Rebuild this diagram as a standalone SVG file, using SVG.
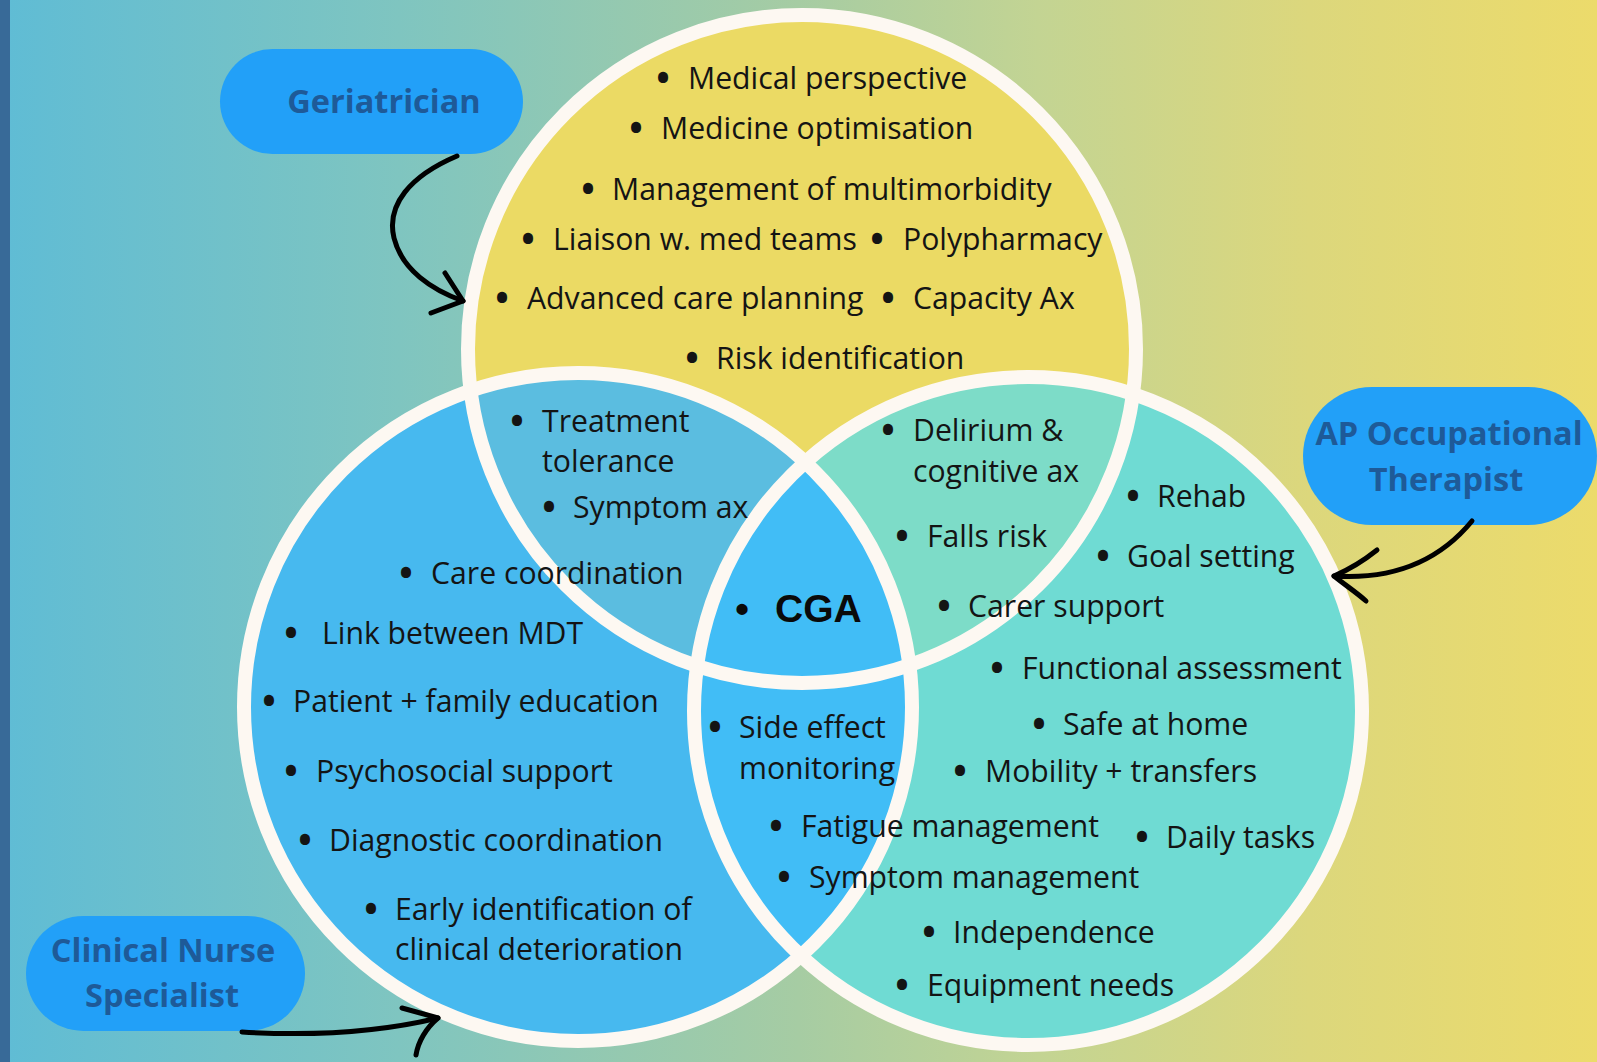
<svg xmlns="http://www.w3.org/2000/svg" width="1597" height="1062" viewBox="0 0 1597 1062">
<defs>
<linearGradient id="bg" x1="0" y1="0" x2="1" y2="0">
<stop offset="0" stop-color="#5fbcd5"/>
<stop offset="0.25" stop-color="#7fc5c0"/>
<stop offset="0.5" stop-color="#a6cca3"/>
<stop offset="0.65" stop-color="#c3d493"/>
<stop offset="0.82" stop-color="#dcd77c"/>
<stop offset="1" stop-color="#ecdb6b"/>
</linearGradient>
<circle id="cT" cx="802" cy="349" r="334"/>
<circle id="cL" cx="578" cy="707" r="334"/>
<circle id="cR" cx="1028" cy="711" r="334"/>
<clipPath id="clipT"><use href="#cT"/></clipPath>
<clipPath id="clipL"><use href="#cL"/></clipPath>
</defs>
<style>
.t{font-family:"Open Sans","Liberation Sans",sans-serif;font-size:30.2px;fill:#141414}
.b{font-family:"Open Sans","Liberation Sans",sans-serif;font-size:36px;font-weight:700;fill:#141414;text-anchor:middle;transform:translateY(2px)}
.lbl{font-family:"Open Sans","Liberation Sans",sans-serif;font-size:32.5px;font-weight:700;fill:#1e5a98;text-anchor:middle}
.pill{fill:#22a0f8}
.ring{fill:none;stroke:#fdf8f2;stroke-width:14}
.arr{fill:none;stroke:#000;stroke-width:5;stroke-linecap:round;stroke-linejoin:round}
</style>
<rect x="0" y="0" width="1597" height="1062" fill="url(#bg)"/>
<rect x="0" y="0" width="10" height="1062" fill="#386a98"/>

<g id="venn">
<use href="#cT" fill="#ebda64"/>
<use href="#cL" fill="#47b9ef"/>
<use href="#cR" fill="#6fdbd3"/>
<use href="#cL" fill="#5bbde0" clip-path="url(#clipT)"/>
<use href="#cR" fill="#7ddcc8" clip-path="url(#clipT)"/>
<use href="#cR" fill="#41bdf6" clip-path="url(#clipL)"/>
<use href="#cT" class="ring"/>
<use href="#cL" class="ring"/>
<use href="#cR" class="ring"/>
</g>

<g id="medical">
<text class="b" x="663" y="89">•</text><text class="t" x="688" y="89">Medical perspective</text>
<text class="b" x="636" y="139">•</text><text class="t" x="661" y="139">Medicine optimisation</text>
<text class="b" x="588" y="200">•</text><text class="t" x="612" y="200">Management of multimorbidity</text>
<text class="b" x="528" y="250">•</text><text class="t" x="553" y="250">Liaison w. med teams</text>
<text class="b" x="877" y="250">•</text><text class="t" x="903" y="250">Polypharmacy</text>
<text class="b" x="502" y="309">•</text><text class="t" x="527" y="309">Advanced care planning</text>
<text class="b" x="888" y="309">•</text><text class="t" x="913" y="309">Capacity Ax</text>
<text class="b" x="692" y="369">•</text><text class="t" x="716" y="369">Risk identification</text>
</g>

<g id="medical-nursing">
<text class="b" x="517" y="432">•</text><text class="t" x="542" y="432">Treatment</text>
<text class="t" x="542" y="472">tolerance</text>
<text class="b" x="549" y="518">•</text><text class="t" x="573" y="518">Symptom ax</text>
</g>

<g id="medical-ot">
<text class="b" x="888" y="441">•</text><text class="t" x="913" y="441">Delirium &amp;</text>
<text class="t" x="913" y="482">cognitive ax</text>
<text class="b" x="902" y="547">•</text><text class="t" x="927" y="547">Falls risk</text>
<text class="b" x="944" y="617">•</text><text class="t" x="968" y="617">Carer support</text>
</g>

<g id="ot">
<text class="b" x="1133" y="507">•</text><text class="t" x="1157" y="507">Rehab</text>
<text class="b" x="1103" y="567">•</text><text class="t" x="1127" y="567">Goal setting</text>
<text class="b" x="997" y="679">•</text><text class="t" x="1022" y="679">Functional assessment</text>
<text class="b" x="1039" y="735">•</text><text class="t" x="1063" y="735">Safe at home</text>
<text class="b" x="960" y="782">•</text><text class="t" x="985" y="782">Mobility + transfers</text>
<text class="b" x="1142" y="848">•</text><text class="t" x="1166" y="848">Daily tasks</text>
<text class="b" x="929" y="943">•</text><text class="t" x="953" y="943">Independence</text>
<text class="b" x="902" y="996">•</text><text class="t" x="927" y="996">Equipment needs</text>
</g>

<g id="nursing-ot">
<text class="b" x="715" y="738">•</text><text class="t" x="739" y="738">Side effect</text>
<text class="t" x="739" y="779">monitoring</text>
<text class="b" x="776" y="837">•</text><text class="t" x="801" y="837">Fatigue management</text>
<text class="b" x="784" y="888">•</text><text class="t" x="809" y="888">Symptom management</text>
</g>

<g id="nursing">
<text class="b" x="406" y="584">•</text><text class="t" x="431" y="584">Care coordination</text>
<text class="b" x="291" y="644">•</text><text class="t" x="322" y="644">Link between MDT</text>
<text class="b" x="269" y="712">•</text><text class="t" x="293" y="712">Patient + family education</text>
<text class="b" x="291" y="782">•</text><text class="t" x="316" y="782">Psychosocial support</text>
<text class="b" x="305" y="851">•</text><text class="t" x="329" y="851">Diagnostic coordination</text>
<text class="b" x="371" y="920">•</text><text class="t" x="395" y="920">Early identification of</text>
<text class="t" x="395" y="960">clinical deterioration</text>
</g>

<g id="cga">
<text x="742" y="622" font-family="Liberation Sans, Arial, sans-serif" font-size="39" font-weight="700" fill="#0a0a0a" text-anchor="middle">•</text>
<text x="775" y="622" font-family="Liberation Sans, Arial, sans-serif" font-size="39" font-weight="700" fill="#0a0a0a">CGA</text>
</g>

<g id="geriatrician">
<rect class="pill" x="220" y="49" width="303" height="105" rx="52.5"/>
<text class="lbl" x="384" y="113">Geriatrician</text>
</g>

<g id="ap-ot">
<rect class="pill" x="1303" y="387" width="294" height="138" rx="69"/>
<text class="lbl" x="1449" y="445">AP Occupational</text>
<text class="lbl" x="1446" y="491">Therapist</text>
</g>

<g id="cns">
<rect class="pill" x="26" y="916" width="279" height="115" rx="57.5"/>
<text class="lbl" x="163" y="962">Clinical Nurse</text>
<text class="lbl" x="162" y="1007">Specialist</text>
</g>

<g id="connectors">
<path class="arr" d="M457,156 C410,176 386,205 394,238 C402,270 432,290 463,301"/>
<path class="arr" d="M445,273 L463,301 L431,313"/>
<path class="arr" d="M1472,521 C1440,560 1395,580 1334,576"/>
<path class="arr" d="M1377,550 C1362,562 1348,570 1334,576 C1345,585 1356,592 1366,601"/>
<path class="arr" d="M242,1032 C310,1036 380,1032 438,1018"/>
<path class="arr" d="M402,1008 L438,1018 C426,1028 418,1042 416,1055"/>
</g>
</svg>
